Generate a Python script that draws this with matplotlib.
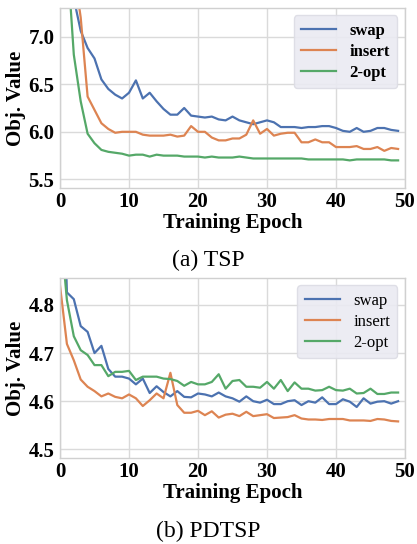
import matplotlib
matplotlib.use("Agg")
import matplotlib.pyplot as plt
import numpy as np

epochs = list(range(50))

tsp_swap = [9.0, 8.0, 7.40, 7.06, 6.88, 6.77, 6.55, 6.45, 6.39, 6.35,
            6.41, 6.54, 6.35, 6.41, 6.32, 6.24, 6.18, 6.18, 6.25, 6.17,
            6.16, 6.15, 6.16, 6.13, 6.12, 6.16, 6.12, 6.10, 6.08, 6.10,
            6.12, 6.10, 6.05, 6.05, 6.05, 6.04, 6.05, 6.05, 6.06, 6.06,
            6.04, 6.01, 6.00, 6.04, 6.00, 6.01, 6.04, 6.04, 6.02, 6.01]
tsp_insert = [9.5, 8.5, 7.7, 7.20, 6.37, 6.23, 6.09, 6.03, 5.99, 6.00,
              6.00, 6.00, 5.97, 5.96, 5.96, 5.96, 5.97, 5.95, 5.96, 6.06,
              6.00, 6.00, 5.94, 5.91, 5.91, 5.93, 5.93, 5.97, 6.12, 5.98,
              6.03, 5.96, 5.98, 5.99, 5.99, 5.89, 5.89, 5.92, 5.89, 5.89,
              5.84, 5.84, 5.84, 5.85, 5.82, 5.82, 5.84, 5.80, 5.83, 5.82]
tsp_2opt = [10.5, 7.9, 6.81, 6.32, 5.98, 5.88, 5.81, 5.79, 5.78, 5.77,
            5.75, 5.76, 5.76, 5.74, 5.76, 5.75, 5.75, 5.75, 5.74, 5.74,
            5.74, 5.73, 5.74, 5.73, 5.73, 5.73, 5.74, 5.73, 5.72, 5.72,
            5.72, 5.72, 5.72, 5.72, 5.72, 5.72, 5.71, 5.71, 5.71, 5.71,
            5.71, 5.71, 5.70, 5.71, 5.71, 5.71, 5.71, 5.71, 5.70, 5.70]

pd_swap = [5.3, 4.826, 4.812, 4.756, 4.744, 4.700, 4.715, 4.667, 4.651, 4.651,
           4.647, 4.635, 4.647, 4.617, 4.631, 4.619, 4.610, 4.621, 4.609, 4.608,
           4.616, 4.614, 4.610, 4.618, 4.610, 4.606, 4.599, 4.610, 4.600, 4.597,
           4.603, 4.594, 4.594, 4.600, 4.602, 4.592, 4.600, 4.597, 4.608, 4.594,
           4.594, 4.604, 4.599, 4.588, 4.606, 4.595, 4.599, 4.600, 4.595, 4.600]
pd_insert = [4.840, 4.719, 4.685, 4.645, 4.630, 4.621, 4.610, 4.616, 4.609, 4.606,
             4.614, 4.606, 4.590, 4.602, 4.616, 4.606, 4.659, 4.592, 4.576, 4.576,
             4.580, 4.571, 4.579, 4.566, 4.572, 4.574, 4.569, 4.578, 4.569, 4.571,
             4.573, 4.565, 4.566, 4.567, 4.571, 4.564, 4.562, 4.562, 4.561, 4.563,
             4.563, 4.563, 4.560, 4.560, 4.560, 4.559, 4.563, 4.562, 4.559, 4.558]
pd_2opt = [4.97, 4.810, 4.735, 4.706, 4.696, 4.675, 4.675, 4.652, 4.661, 4.661,
           4.663, 4.644, 4.651, 4.651, 4.651, 4.647, 4.646, 4.642, 4.632, 4.640,
           4.635, 4.635, 4.640, 4.656, 4.626, 4.642, 4.644, 4.630, 4.630, 4.628,
           4.640, 4.626, 4.644, 4.621, 4.639, 4.626, 4.626, 4.622, 4.623, 4.630,
           4.623, 4.622, 4.626, 4.616, 4.617, 4.626, 4.615, 4.615, 4.618, 4.618]

labels = ["swap", "insert", "2-opt"]
colors = ["#4C72B0", "#DD8452", "#55A868"]
tsp_yticks = [5.5, 6.0, 6.5, 7.0]
pd_yticks = [4.5, 4.6, 4.7, 4.8]
xticks = [0, 10, 20, 30, 40, 50]

plt.rcParams['font.family'] = ['Liberation Serif', 'DejaVu Serif']

fig = plt.figure(figsize=(4.17, 5.44), dpi=100)

def setup(ax, series, yticks, ylim, legend_bold):
    for s, lab, c in zip(series, labels, colors):
        ax.plot(epochs, s, color=c, lw=1.6, label=lab)
    ax.set_xlim(0, 50)
    ax.set_ylim(*ylim)
    ax.set_xticks(xticks)
    ax.set_yticks(yticks)
    ax.set_yticklabels([f"{v:.1f}" for v in yticks])
    ax.grid(True, color="#dadada", lw=1.0)
    ax.set_axisbelow(True)
    for sp in ax.spines.values():
        sp.set_color("#d0d0d0")
        sp.set_linewidth(1.0)
    ax.tick_params(axis='x', length=0, pad=3, labelsize=15)
    ax.tick_params(axis='y', length=0, pad=4, labelsize=15)
    for t in ax.get_xticklabels() + ax.get_yticklabels():
        t.set_fontweight('bold')
    ax.set_xlabel("Training Epoch", fontsize=15, fontweight='bold', labelpad=0.5)
    ax.set_ylabel("Obj. Value", fontsize=15, fontweight='bold', labelpad=2)
    leg = ax.legend(loc='upper right', handlelength=2.1, handletextpad=0.8,
                    frameon=True, fancybox=True, facecolor="#EAEAF2",
                    edgecolor="#dcdce4", framealpha=0.9,
                    prop={'weight': 'bold' if legend_bold else 'normal', 'size': 12},
                    borderaxespad=0.45, labelspacing=0.3, borderpad=0.45)
    return leg

ax1 = fig.add_axes([0.1439, 0.6544, 0.8273, 0.3309])
setup(ax1, [tsp_swap, tsp_insert, tsp_2opt], tsp_yticks, (5.41, 7.30), True)
ax2 = fig.add_axes([0.1439, 0.1581, 0.8273, 0.3309])
setup(ax2, [pd_swap, pd_insert, pd_2opt], pd_yticks, (4.482, 4.856), False)

fig.text(0.5, 1 - 260 / 544, "(a) TSP", ha='center', va='center', fontsize=17)
fig.text(0.5, 1 - 531 / 544, "(b) PDTSP", ha='center', va='center', fontsize=17)

fig.savefig("out.png", dpi=100)
